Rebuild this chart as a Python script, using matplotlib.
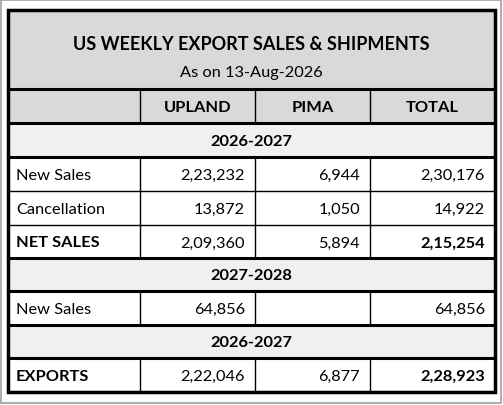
import matplotlib.pyplot as plt
from matplotlib.patches import Rectangle

plt.rcParams['font.family'] = ['Lato', 'DejaVu Sans']

title = "US WEEKLY EXPORT SALES & SHIPMENTS"
subtitle = "As on 13-Aug-2026"
columns = ["", "UPLAND", "PIMA", "TOTAL"]
# (kind, label, upland, pima, total)
rows = [
    ("year", "2026-2027", "", "", ""),
    ("row", "New Sales", "2,23,232", "6,944", "2,30,176"),
    ("row", "Cancellation", "13,872", "1,050", "14,922"),
    ("bold", "NET SALES", "2,09,360", "5,894", "2,15,254"),
    ("year", "2027-2028", "", "", ""),
    ("row", "New Sales", "64,856", "", "64,856"),
    ("year", "2026-2027", "", "", ""),
    ("bold", "EXPORTS", "2,22,046", "6,877", "2,28,923"),
]

W, H = 503, 406
xs = [8, 140, 255, 370, 495]
ys = [124, 158, 192, 226, 259, 292, 326, 359, 393]
top, head = 11, 90
fs = 11.8

fig = plt.figure(figsize=(W / 100, H / 100), dpi=100)
ax = fig.add_axes([0, 0, 1, 1])
ax.set_xlim(0, W)
ax.set_ylim(H, 0)
ax.axis("off")

# outer frame
ax.add_patch(Rectangle((1, 1), W - 3, H - 3, fill=False, ec="#a0a0a0", lw=1.2))

ax.add_patch(Rectangle((xs[0], top), xs[-1] - xs[0], head - top, fc="#d9d9d9", ec="none"))
ax.add_patch(Rectangle((xs[0], head), xs[-1] - xs[0], ys[0] - head, fc="#d9d9d9", ec="none"))
ax.text((xs[0] + xs[-1]) / 2, 45, title, ha="center", va="center", fontsize=13, fontweight="bold")
ax.text((xs[0] + xs[-1]) / 2, 73, subtitle, ha="center", va="center", fontsize=fs)
for i in range(1, 4):
    ax.text((xs[i] + xs[i + 1]) / 2, (head + ys[0]) / 2 + 1, columns[i], ha="center", va="center",
            fontsize=fs, fontweight="bold")

for r, (kind, label, *vals) in enumerate(rows):
    y0, y1 = ys[r], ys[r + 1]
    yc = (y0 + y1) / 2 + 1
    if kind == "year":
        ax.add_patch(Rectangle((xs[0], y0), xs[-1] - xs[0], y1 - y0, fc="#f0f0f0", ec="none"))
        ax.text((xs[0] + xs[-1]) / 2, yc, label, ha="center", va="center", fontsize=fs, fontweight="bold")
        continue
    bold = kind == "bold"
    ax.text(xs[0] + 8, yc, label, ha="left", va="center", fontsize=fs,
            fontweight="bold" if bold else "normal")
    for j, v in enumerate(vals):
        wt = "bold" if (bold and j == 2) else "normal"
        ax.text(xs[j + 2] - 10, yc, v, ha="right", va="center", fontsize=fs, fontweight=wt)
    for x in xs[1:-1]:
        ax.plot([x, x], [y0, y1], color="black", lw=1)

for x in xs[1:-1]:
    ax.plot([x, x], [head, ys[0]], color="black", lw=1)

thick = [top, head, ys[0], ys[1], ys[4], ys[5], ys[6], ys[7], ys[8]]
for y in ys:
    ax.plot([xs[0], xs[-1]], [y, y], color="black", lw=2.2 if y in thick else 1)
ax.plot([xs[0], xs[-1]], [head, head], color="black", lw=2.2)
ax.add_patch(Rectangle((xs[0], top), xs[-1] - xs[0], ys[-1] - top, fill=False, ec="black", lw=2.5))

fig.savefig("out.png", dpi=100)
